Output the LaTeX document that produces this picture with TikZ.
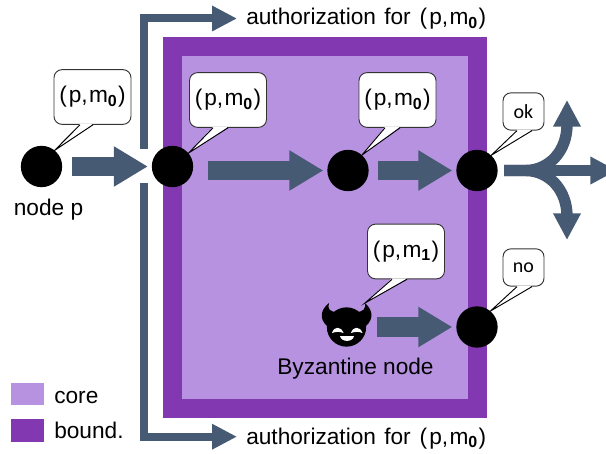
\documentclass[tikz,border=0pt]{standalone}
\usepackage{fontspec}
\setmainfont{Liberation Sans}
\newfontfamily\smallfont{Carlito}
\usetikzlibrary{arrows.meta,calc}
\definecolor{corecol}{RGB}{183,146,225}
\definecolor{boundcol}{RGB}{130,56,176}
\definecolor{arrowcol}{RGB}{71,90,115}
\newcommand{\msg}[1]{(\kern1.5pt p,\kern1pt m\raisebox{-2.5pt}{\fontsize{12}{12}\selectfont\textbf{#1}}\kern1pt)}
\newcommand{\bubbletail}[4]{%
    \fill[white] ($(#1.south)+(#2,-1)$) -- (#4) -- ($(#1.south)+(#3,-1)$) -- cycle;
    \draw[line width=.7pt] ($(#1.south)+(#2,0)$) -- (#4) -- ($(#1.south)+(#3,0)$);
}
\tikzset{
    lbl/.style={font=\fontsize{17}{20}\selectfont, inner sep=0pt},
    procnode/.style={circle, fill=black, minimum size=31pt, inner sep=0pt, outer sep=0pt},
    msgbubble/.style={draw=black!80, line width=.7pt, fill=white, rounded corners=6pt, inner sep=0pt,
        minimum width=57.75pt, minimum height=41pt, font=\fontsize{17}{20}\selectfont},
    tinybubble/.style={msgbubble, minimum width=30.75pt, minimum height=28pt, font=\smallfont\fontsize{15}{18}\selectfont},
    bigarrow/.style={arrowcol, line width=14.5pt, -{Triangle[length=25.5pt,width=28.5pt]}, shorten >=3pt},
    authline/.style={arrowcol, line width=6pt, -{Triangle[length=18.75pt,width=18pt]}},
    forkline/.style={arrowcol, line width=8.5pt, -{Triangle[length=20pt,width=19.5pt]}},
}
\begin{document}
\begin{tikzpicture}[x=.75pt,y=-.75pt]
    \clip (0,0) rectangle (606,453);
    \fill[boundcol] (163,37) rectangle (487,418);
    \fill[corecol] (182,56) rectangle (468,399);

    % legend
    \fill[corecol] (11,383) rectangle (44,405);
    \fill[boundcol] (11,419) rectangle (44,442);
    \node[lbl, anchor=base west] (corelbl) at (54,403) {core};
    \node[lbl, anchor=base west] (boundlbl) at (54,438) {bound.};

    % nodes
    \node[procnode] (p) at (41.5,166.5) {};
    \node[procnode] (a) at (172.5,166.5) {};
    \node[procnode] (c) at (348,170.5) {};
    \node[procnode] (d) at (477,170.5) {};
    \node[procnode] (e) at (477,327) {};
    \node[lbl, anchor=base] (plbl) at (48.5,215) {node p};
    \node[lbl, anchor=base] (zlbl) at (355.5,374) {Byzantine node};

    % byzantine node
    \node[circle, fill=black, minimum size=29.5pt, inner sep=0pt, outer sep=0pt] (z) at (346.5,327) {};
    \coordinate (hornr) at (365,303);
    \coordinate (hornl) at (329,303);
    \fill (hornl) .. controls (318,312) and (320,322) .. (331,329) -- (337,312) .. controls (330,312) and (327,309) .. (hornl);
    \fill (hornr) .. controls (375,312) and (373,322) .. (362,329) -- (356,312) .. controls (363,312) and (366,309) .. (hornr);
    \fill[white] (332,333) .. controls (334,326) and (341,326) .. (343.5,333) .. controls (340,331.5) and (336,331.5) .. cycle;
    \fill[white] (351,333) .. controls (353,326) and (360,326) .. (362.5,333) .. controls (359,331.5) and (355,331.5) .. cycle;
    \fill[white] (340,336) -- (354,336) .. controls (353,342.5) and (341,342.5) .. cycle;

    % arrows
    \draw[bigarrow, shorten <=7.5pt] (p) -- (a);
    \draw[bigarrow] ($(a.east |- c)+(15,0)$) -- (c);
    \draw[bigarrow, shorten <=7pt] (c) -- (d);
    \draw[bigarrow] ($(z.east)+(10.5,0)$) -- (e);

    \node[lbl, anchor=base west] (authup) at (246,25) {authorization\ \kern1.5pt for\ \kern2pt\msg{0}};
    \node[lbl, anchor=base west] (authdown) at (246,444) {authorization\ \kern1.5pt for\ \kern2pt\msg{0}};
    \coordinate (upstart) at (144,149);
    \coordinate (downstart) at (144,183);
    \coordinate (upend) at (237,18.5);
    \coordinate (downend) at (237,436.7);
    \draw[authline] (upstart) |- (upend);
    \draw[authline] (downstart) |- (downend);

    \coordinate (forkstart) at (504,170.5);
    \draw[forkline] (forkstart) -- (617,170.5);
    \draw[forkline] (forkstart) -- (525,170.5) .. controls (550,170.5) and (567,150) .. (567,125) -- (567,100);
    \draw[forkline] (forkstart) -- (525,170.5) .. controls (550,170.5) and (567,191) .. (567,216) -- (567,240);

    % bubbles
    \node[msgbubble] (bp) at (92.5,97) {\msg{0}};
    \node[msgbubble] (ba) at (228,100) {\msg{0}};
    \node[msgbubble] (bc) at (397.5,100) {\msg{0}};
    \node[msgbubble] (bz) at (406,251.5) {\msg{1}};
    \node[tinybubble] (bd) at (523.5,111.5) {ok};
    \node[tinybubble] (be) at (523.5,267.5) {no};
    \bubbletail{bp}{-12.5}{0.5}{p.51}
    \bubbletail{ba}{-15}{0}{a.40}
    \bubbletail{bc}{-12.5}{2.5}{c.48}
    \bubbletail{bz}{-14}{1}{hornr}
    \bubbletail{bd}{-6.5}{8.5}{d.47}
    \bubbletail{be}{-6.5}{8.5}{e.50}
\end{tikzpicture}
\end{document}
